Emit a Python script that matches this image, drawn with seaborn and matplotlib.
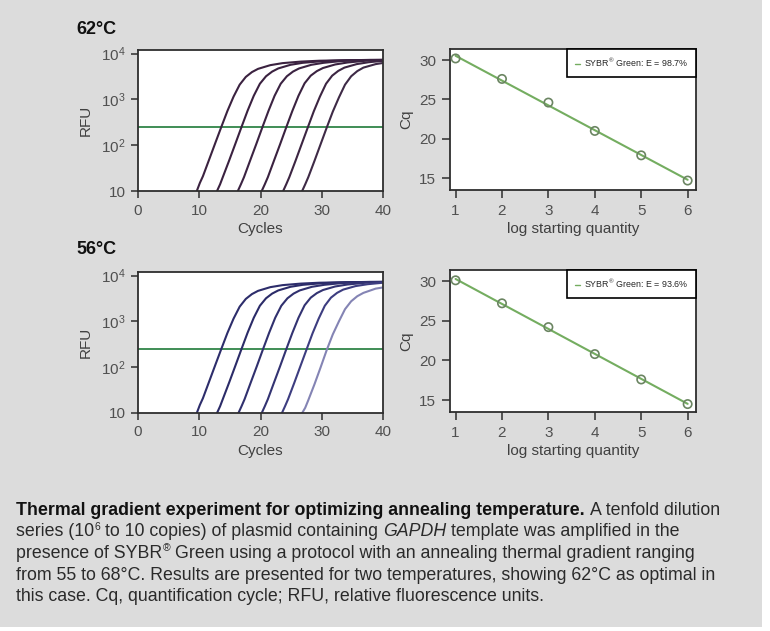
import numpy as np
import pandas as pd
import matplotlib
matplotlib.use("Agg")
import matplotlib.pyplot as plt
import seaborn as sns
from matplotlib.patches import Rectangle
from matplotlib.lines import Line2D

# ---------------- data ----------------
cycle_offsets = [0, 0.5, 1, 2, 3, 4, 5, 6, 7, 8, 9, 10, 12, 14, 17, 20, 25, 31]

starts_62 = [9.6, 12.9, 16.3, 20.2, 23.7, 26.8]
rfu_62_1 = [10, 15, 21, 48, 110, 250, 560, 1150, 2100, 3100, 3950, 4650, 5600, 6200, 6700, 7000, 7200, 7300]
rfu_62_2 = [10, 14, 21, 47, 108, 250, 570, 1200, 2200, 3200, 4050, 4750, 5700, 6300, 6800, 7100, 7300, 7300]
rfu_62_3 = [10, 14, 20, 46, 105, 245, 560, 1200, 2200, 3200, 4050, 4750, 5700, 6300, 6900, 7200, 7300, 7300]
rfu_62_4 = [10, 14, 20, 46, 105, 245, 560, 1200, 2250, 3300, 4150, 4850, 5800, 6400, 7000, 7300, 7300, 7300]
rfu_62_5 = [10, 14, 20, 45, 104, 240, 550, 1150, 2200, 3300, 4200, 4950, 5900, 6500, 7100, 7300, 7300, 7300]
rfu_62_6 = [10, 14, 20, 45, 104, 240, 540, 1100, 2100, 3200, 4150, 4950, 5900, 6500, 7100, 7300, 7300, 7300]

starts_56 = [9.6, 12.9, 16.4, 20.2, 23.5, 26.8]
rfu_56_1 = [10, 15, 21, 48, 110, 250, 560, 1150, 2100, 3100, 3950, 4650, 5600, 6200, 6700, 7000, 7200, 7300]
rfu_56_2 = [10, 14, 21, 47, 108, 250, 570, 1200, 2200, 3200, 4050, 4750, 5700, 6300, 6800, 7100, 7300, 7300]
rfu_56_3 = [10, 14, 20, 46, 105, 245, 560, 1200, 2200, 3200, 4050, 4750, 5700, 6300, 6900, 7200, 7300, 7300]
rfu_56_4 = [10, 14, 20, 46, 105, 245, 560, 1200, 2250, 3300, 4150, 4850, 5800, 6400, 7000, 7300, 7300, 7300]
rfu_56_5 = [10, 14, 20, 45, 104, 240, 550, 1150, 2200, 3300, 4200, 4950, 5900, 6500, 7100, 7300, 7300, 7300]
rfu_56_6 = [10, 13, 19, 42, 98, 235, 520, 1000, 1850, 2750, 3550, 4200, 5200, 5750, 6100, 6200, 6200, 6200]

threshold_rfu = 250

log_quantity = [1, 2, 3, 4, 5, 6]
cq_62 = [30.2, 27.6, 24.6, 21.0, 17.9, 14.7]
cq_56 = [30.1, 27.2, 24.2, 20.8, 17.6, 14.5]

rfu_ticks = [10, 100, 1000, 10000]
rfu_ticklabels = ["10", "$10^{2}$", "$10^{3}$", "$10^{4}$"]
cycle_ticks = [0, 10, 20, 30, 40]
cq_ticks = [15, 20, 25, 30]

legend_62 = "SYBR$^{®}$ Green: E = 98.7%"
legend_56 = "SYBR$^{®}$ Green: E = 93.6%"
title_62 = "62°C"
title_56 = "56°C"

# caption segments: (text, kind) ; kinds: b=bold, r=regular, i=italic, s=superscript
caption_line1 = [("Thermal gradient experiment for optimizing annealing temperature.", "b"),
                 ("A tenfold dilution", "r")]
caption_line2 = [("series (10", "r"), ("6", "s"), ("to 10 copies) of plasmid containing", "r"),
                 ("GAPDH", "i"), ("template was amplified in the", "r")]
caption_line3 = [("presence of SYBR", "r"), ("®", "s"),
                 ("Green using a protocol with an annealing thermal gradient ranging", "r")]
caption_line4 = [("from 55 to 68°C. Results are presented for two temperatures, showing 62°C as optimal in", "r")]
caption_line5 = [("this case. Cq, quantification cycle; RFU, relative fluorescence units.", "r")]

# ---------------- style ----------------
sns.set_style("white")
plt.rcParams["font.family"] = ["Liberation Sans", "DejaVu Sans"]
plt.rcParams["mathtext.fontset"] = "custom"
plt.rcParams["mathtext.rm"] = "Liberation Sans"
plt.rcParams["mathtext.it"] = "Liberation Sans:italic"
plt.rcParams["mathtext.bf"] = "Liberation Sans:bold"

W, H = 770, 631
fig = plt.figure(figsize=(W / 100, H / 100), dpi=100)
fig.patch.set_facecolor("white")
fig.patches.append(Rectangle((0, 4 / H), 762 / W, 627 / H, transform=fig.transFigure,
                             facecolor="#dcdcdc", edgecolor="none", zorder=-10))

def px_axes(left, top, right, bottom):
    return fig.add_axes([left / W, 1 - bottom / H, (right - left) / W, (bottom - top) / H])

ax_a = px_axes(138, 50, 383, 191)
ax_b = px_axes(450, 49, 696, 190)
ax_c = px_axes(138, 272, 383, 413)
ax_d = px_axes(450, 270, 696, 412)

spine_col = "#2e2e2e"
tick_col = "#505050"
label_col = "#404040"
green_thr = "#3f8d55"
green_fit = "#74ad60"
marker_edge = "#6b8562"

def style_axes(ax):
    ax.set_facecolor("white")
    for s in ax.spines.values():
        s.set_visible(True)
        s.set_color(spine_col)
        s.set_linewidth(1.3)
    ax.tick_params(axis="both", which="major", direction="out", length=5, width=1.1,
                   color=spine_col, labelcolor=tick_col, labelsize=11, pad=4,
                   left=True, bottom=True)
    ax.tick_params(axis="both", which="minor", length=0)

def rfu_panel(ax, starts, curves, colors):
    rows = []
    for i, (s, r) in enumerate(zip(starts, curves)):
        for t, v in zip(cycle_offsets, r):
            rows.append((f"c{i}", s + t, v))
    df = pd.DataFrame(rows, columns=["curve", "cycle", "rfu"])
    ax.set_yscale("log")
    sns.lineplot(data=df, x="cycle", y="rfu", hue="curve", palette=colors,
                 estimator=None, sort=False, legend=False, lw=1.5, ax=ax)
    ax.axhline(threshold_rfu, color=green_thr, lw=1.4, zorder=1)
    ax.set_xlim(0, 40)
    ax.set_ylim(10, 12000)
    ax.set_xticks(cycle_ticks)
    ax.set_yticks(rfu_ticks)
    ax.set_yticklabels(rfu_ticklabels)
    ax.minorticks_off()
    style_axes(ax)
    ax.set_xlabel("Cycles", fontsize=11, color=label_col, labelpad=3)
    ax.set_ylabel("RFU", fontsize=11, color=label_col, labelpad=6)

def cq_panel(ax, cq, label):
    sns.regplot(x=log_quantity, y=cq, ci=None, scatter=False, ax=ax,
                line_kws=dict(color=green_fit, lw=1.5))
    sns.scatterplot(x=log_quantity, y=cq, ax=ax, marker="o", s=36,
                    facecolor="none", edgecolor=marker_edge, linewidth=1.2, zorder=3)
    ax.set_xlim(0.88, 6.18)
    ax.set_ylim(13.5, 31.4)
    ax.set_xticks(log_quantity)
    ax.set_yticks(cq_ticks)
    style_axes(ax)
    ax.tick_params(axis="both", length=6)
    ax.set_xlabel("log starting quantity", fontsize=11, color=label_col, labelpad=3)
    ax.set_ylabel("Cq", fontsize=11, color=label_col, labelpad=4)
    leg = ax.legend(handles=[Line2D([0], [0], color=green_fit, lw=1.0)], labels=[label],
                    loc="upper right", borderaxespad=0, fontsize=6.4, frameon=True,
                    fancybox=False, edgecolor="black", handlelength=0.6,
                    handletextpad=0.5, borderpad=0.85)
    leg.get_frame().set_linewidth(1.2)
    leg.get_frame().set_facecolor("white")
    leg.get_frame().set_alpha(1)

cols_62 = ["#3b2240", "#3a2140", "#3b2342", "#3a2240", "#3c2542", "#3e2a46"]
cols_56 = ["#2d2d6b", "#2b2b68", "#30306e", "#333372", "#3d3d80", "#8484b4"]

rfu_panel(ax_a, starts_62, [rfu_62_1, rfu_62_2, rfu_62_3, rfu_62_4, rfu_62_5, rfu_62_6], cols_62)
rfu_panel(ax_c, starts_56, [rfu_56_1, rfu_56_2, rfu_56_3, rfu_56_4, rfu_56_5, rfu_56_6], cols_56)
cq_panel(ax_b, cq_62, legend_62)
cq_panel(ax_d, cq_56, legend_56)

fig.text(76 / W, 1 - 29 / H, title_62, fontsize=13, fontweight="bold", color="#111111", va="center", ha="left")
fig.text(76 / W, 1 - 249 / H, title_56, fontsize=13, fontweight="bold", color="#111111", va="center", ha="left")

# ---------------- caption ----------------
renderer = fig.canvas.get_renderer()

def text_width(txt, size, **kw):
    t = fig.text(0, 0, txt, fontsize=size, **kw)
    w = t.get_window_extent(renderer).width
    t.remove()
    return w

# fit the caption size so that the first line spans the same width as in the reference
w1 = (text_width(caption_line1[0][0], 10, fontweight="bold")
      + text_width("a a", 10) - text_width("aa", 10)
      + text_width(caption_line1[1][0], 10))
cap_size = 10 * 706 / w1
space_w = text_width("a a", cap_size) - text_width("aa", cap_size)
cap_px = cap_size * 100 / 72
cap_col = "#2a2a2a"

def draw_line(segments, ybase, x0=16):
    x = x0
    prev = None
    for txt, kind in segments:
        if prev is not None and kind != "s":
            x += space_w
        kw = dict(color=cap_col, va="baseline", ha="left")
        size = cap_size
        y = ybase
        if kind == "b":
            kw.update(fontweight="bold", color="#111111")
        elif kind == "i":
            kw.update(fontstyle="italic")
        elif kind == "s":
            size = cap_size * 0.58
            y = ybase - 0.38 * cap_px
            x += 0.5
        t = fig.text(x / W, 1 - y / H, txt, fontsize=size, **kw)
        x = t.get_window_extent(renderer).x1
        prev = kind

line_base = [515, 536.5, 558, 579.5, 601]
for yb, segs in zip(line_base, [caption_line1, caption_line2, caption_line3, caption_line4, caption_line5]):
    draw_line(segs, yb)

fig.savefig("out.png", dpi=100, facecolor=fig.get_facecolor())
